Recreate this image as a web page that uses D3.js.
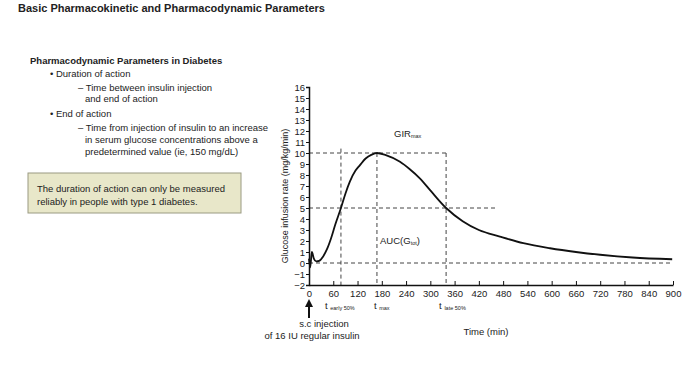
<!DOCTYPE html>
<html>
<head>
<meta charset="utf-8">
<script src="https://cdn.jsdelivr.net/npm/d3@7"></script>
<style>
  body { margin: 0; background: #fff; }
  svg text { font-family: "Liberation Sans", Arial, sans-serif; fill: #222; }
</style>
</head>
<body>
<div id="chart"></div>
<script>
// GIR profile (minutes, mg/kg/min)
var minutes = [0, 3, 7, 12, 18, 25, 35, 45, 55, 65, 79, 90, 101, 115, 126, 140, 155, 168, 190, 225, 250, 274, 300, 339, 380, 420, 472, 530, 596, 660, 720, 800, 898];
var gir     = [0.4, -0.4, 1.0, 0.4, 0.15, 0.2, 0.6, 1.3, 2.3, 3.5, 5.0, 6.3, 7.4, 8.4, 8.9, 9.5, 9.85, 10.0, 9.8, 9.2, 8.5, 7.7, 6.6, 5.0, 3.8, 3.0, 2.4, 1.8, 1.34, 1.0, 0.75, 0.5, 0.34];
var xTicks = d3.range(0, 901, 60);
var yTicks = d3.range(-2, 17, 1);
var tEarly = 79, tMax = 168, tLate = 339, girMax = 10, girHalf = 5;

var svg = d3.select("#chart").append("svg")
   .attr("width", 700)
   .attr("height", 375);

var x = d3.scaleLinear().domain([0, 900]).range([309, 673]);
var y = d3.scaleLinear().domain([-2, 16]).range([285, 87]);

// title
svg.append("text").attr("x", 18).attr("y", 12)
   .style("font-size", "11px").style("font-weight", "bold")
   .text("Basic Pharmacokinetic and Pharmacodynamic Parameters");

// left text block
var lines = [
  {t: "Pharmacodynamic Parameters in Diabetes", x: 30, y: 64, b: true},
  {t: "• Duration of action", x: 50, y: 77},
  {t: "– Time between insulin injection", x: 78, y: 91},
  {t: "and end of action", x: 85, y: 102},
  {t: "• End of action", x: 50, y: 117},
  {t: "– Time from injection of insulin to an increase", x: 78, y: 131},
  {t: "in serum glucose concentrations above a", x: 85, y: 143},
  {t: "predetermined value (ie, 150 mg/dL)", x: 85, y: 155}
];
svg.selectAll("text.notes").data(lines).enter().append("text")
   .attr("class", "notes")
   .attr("x", function(d) { return d.x; })
   .attr("y", function(d) { return d.y; })
   .style("font-size", "9.5px")
   .style("font-weight", function(d) { return d.b ? "bold" : "normal"; })
   .text(function(d) { return d.t; });

svg.append("rect").attr("x", 28).attr("y", 173).attr("width", 213).attr("height", 40)
   .style("fill", "#e8e7c9").style("stroke", "#9a9a82").style("stroke-width", 1);
svg.append("text").attr("x", 37).attr("y", 192).style("font-size", "9.5px")
   .text("The duration of action can only be measured");
svg.append("text").attr("x", 37).attr("y", 205).style("font-size", "9.5px")
   .text("reliably in people with type 1 diabetes.");

// dashed guide lines
var guides = [
  {x1: 0, y1: girMax, x2: tLate, y2: girMax},
  {x1: 0, y1: girHalf, x2: 462, y2: girHalf},
  {x1: 0, y1: 0, x2: 900, y2: 0},
  {x1: tEarly, y1: 10.4, x2: tEarly, y2: -2},
  {x1: tMax, y1: girMax, x2: tMax, y2: -2},
  {x1: tLate, y1: girMax, x2: tLate, y2: -2}
];
svg.selectAll("line.guide").data(guides).enter().append("line")
   .attr("class", "guide")
   .attr("x1", function(d) { return x(d.x1); })
   .attr("y1", function(d) { return y(d.y1); })
   .attr("x2", function(d) { return x(d.x2); })
   .attr("y2", function(d) { return y(d.y2); })
   .style("stroke", "#444").style("stroke-width", 1)
   .style("stroke-dasharray", "4,3");

// axes
var yAxis = svg.append("g").attr("transform", "translate(309,0)")
   .call(d3.axisLeft(y).tickValues(yTicks).tickSize(3).tickFormat(d3.format("d")));
var xAxis = svg.append("g").attr("transform", "translate(0,285)")
   .call(d3.axisBottom(x).tickValues(xTicks).tickSizeInner(-4).tickSizeOuter(0).tickPadding(5));
[yAxis, xAxis].forEach(function(g) {
  g.select(".domain").style("stroke", "#111").style("stroke-width", 1.5);
  g.selectAll(".tick line").style("stroke", "#111");
  g.selectAll("text").style("font-family", "Liberation Sans, Arial, sans-serif")
    .style("font-size", "9.5px").style("fill", "#222");
});
yAxis.selectAll("text").attr("x", -4);

// curve
var pts = minutes.map(function(m, i) { return [m, gir[i]]; });
svg.append("path").datum(pts)
   .attr("d", d3.line().x(function(d) { return x(d[0]); }).y(function(d) { return y(d[1]); })
     .curve(d3.curveMonotoneX))
   .style("fill", "none").style("stroke", "#111").style("stroke-width", 1.8);

// y label
svg.append("text")
   .attr("transform", "translate(288,196) rotate(-90)")
   .attr("text-anchor", "middle").style("font-size", "9px")
   .text("Glucose infusion rate (mg/kg/min)");

// annotations
function subLabel(px, py, main, sub) {
  var t = svg.append("text").attr("x", px).attr("y", py).style("font-size", "9.5px");
  t.append("tspan").text(main);
  t.append("tspan").attr("dy", 1).style("font-size", "5.5px").text(sub);
  return t;
}
subLabel(x(tEarly) - 16, 309, "t ", "early 50%");
subLabel(x(tMax) - 3, 309, "t ", "max");
subLabel(x(tLate) - 7, 309, "t ", "late 50%");
subLabel(394, 137, "GIR", "max");
var auc = svg.append("text").attr("x", 380).attr("y", 244).style("font-size", "9.5px");
auc.append("tspan").text("AUC(G");
auc.append("tspan").attr("dy", 1).style("font-size", "5.5px").text("tot");
auc.append("tspan").attr("dy", -1).text(")");

// injection arrow
svg.append("defs").append("marker").attr("id", "ah")
   .attr("viewBox", "0 0 10 10").attr("refX", 5).attr("refY", 5)
   .attr("markerWidth", 4).attr("markerHeight", 4).attr("orient", "auto")
   .append("path").attr("d", "M0,0L10,5L0,10z").style("fill", "#111");
svg.append("line").attr("x1", x(0)).attr("x2", x(0)).attr("y1", 318).attr("y2", 303)
   .style("stroke", "#111").style("stroke-width", 2).attr("marker-end", "url(#ah)");
svg.append("text").attr("x", 324).attr("y", 327).attr("text-anchor", "middle")
   .style("font-size", "9.5px").text("s.c injection");
svg.append("text").attr("x", 312).attr("y", 339).attr("text-anchor", "middle")
   .style("font-size", "9.5px").text("of 16 IU regular insulin");
svg.append("text").attr("x", 486).attr("y", 335).attr("text-anchor", "middle")
   .style("font-size", "9.5px").text("Time (min)");
</script>
</body>
</html>
